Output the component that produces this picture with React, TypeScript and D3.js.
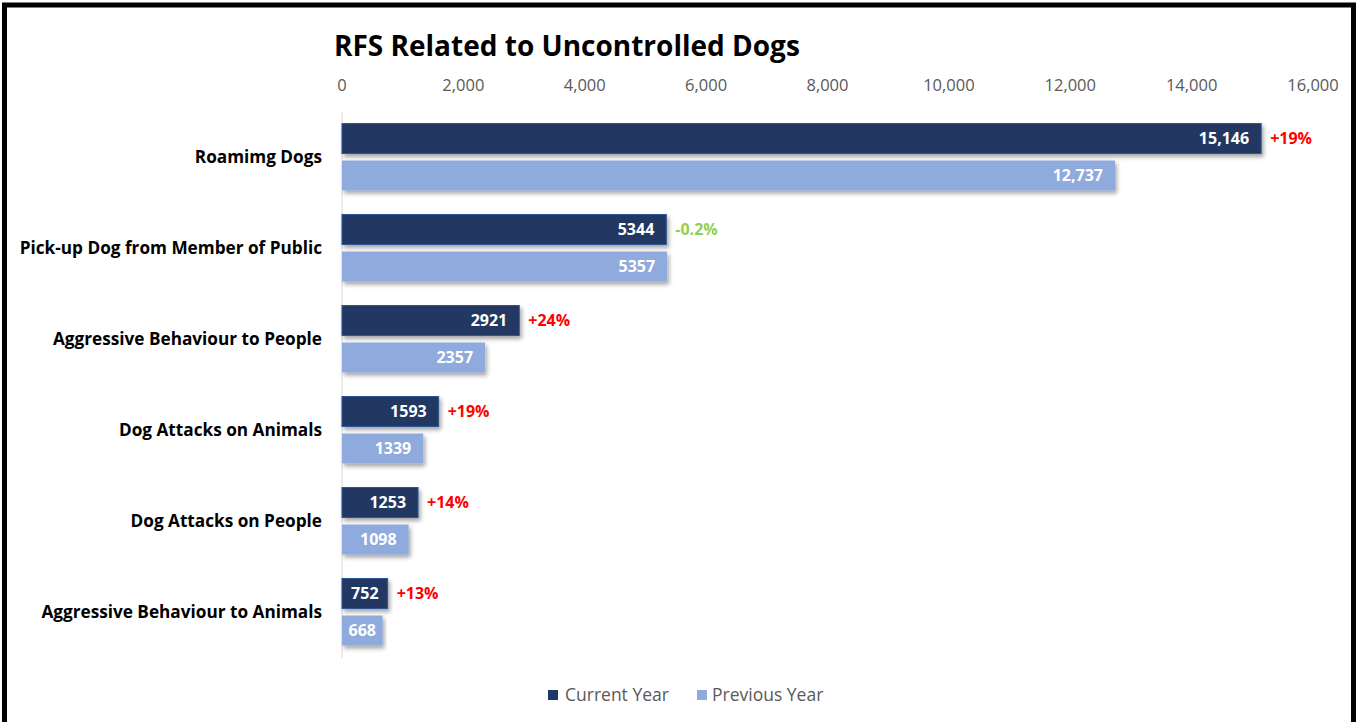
import React from "react";
import * as d3 from "d3";

const categories = [
  "Roamimg Dogs",
  "Pick-up Dog from Member of Public",
  "Aggressive Behaviour to People",
  "Dog Attacks on Animals",
  "Dog Attacks on People",
  "Aggressive Behaviour to Animals",
];
const currentYear = [15146, 5344, 2921, 1593, 1253, 752];
const previousYear = [12737, 5357, 2357, 1339, 1098, 668];
const currentLabels = ["15,146", "5344", "2921", "1593", "1253", "752"];
const previousLabels = ["12,737", "5357", "2357", "1339", "1098", "668"];
const changeLabels = ["+19%", "-0.2%", "+24%", "+19%", "+14%", "+13%"];
const xTicks = [0, 2000, 4000, 6000, 8000, 10000, 12000, 14000, 16000];
const seriesNames = ["Current Year", "Previous Year"];

const DARK = "#203864";
const LIGHT = "#8FAADC";
const FONT = "'Open Sans', Lato, sans-serif";

export default function App() {
  const W = 1358;
  const H = 722;
  const x = d3.scaleLinear().domain([0, 16000]).range([342, 1313]);
  const y = d3.scaleBand<string>().domain(categories).range([111.5, 657.5]);
  const sub = d3
    .scaleBand<string>()
    .domain(seriesNames)
    .range([0, 67])
    .paddingInner(7 / 37);
  const fmt = d3.format(",");
  const groupOffset = (y.bandwidth() - 67) / 2;

  const valueLabel = (v: number, label: string, yy: number, bh: number) => {
    const w = x(v) - x(0);
    const small = w < 60;
    return (
      <text
        x={small ? x(0) + w / 2 : x(v) - 12}
        y={yy + bh / 2 + 5.5}
        textAnchor={small ? "middle" : "end"}
        fontSize={16}
        fontWeight={700}
        fill="#fff"
      >
        {label}
      </text>
    );
  };

  return (
    <svg
      width={W}
      height={H}
      style={{ position: "absolute", left: 0, top: 0, background: "#fff" }}
      fontFamily={FONT}
    >
      <defs>
        <filter id="shadow" x="-5%" y="-20%" width="115%" height="160%">
          <feDropShadow dx="2" dy="3" stdDeviation="2" floodColor="#000" floodOpacity="0.35" />
        </filter>
      </defs>
      <rect x={0} y={0} width={W} height={H} fill="#fff" />
      <path d={`M4.5,${H + 10} V5 H1353.5 V${H + 10}`} fill="none" stroke="#000" strokeWidth={5} />

      <text x={334} y={56} fontSize={28} fontWeight={700} fill="#000">
        RFS Related to Uncontrolled Dogs
      </text>

      {xTicks.map((t) => (
        <text key={t} x={x(t)} y={91} fontSize={16.5} fill="#595959" textAnchor="middle">
          {fmt(t)}
        </text>
      ))}

      <line x1={x(0)} x2={x(0)} y1={112} y2={658} stroke="#D9D9D9" strokeWidth={1} />

      {categories.map((c, i) => {
        const y0 = (y(c) as number) + groupOffset;
        const yc = y0 + (sub("Current Year") as number);
        const yp = y0 + (sub("Previous Year") as number);
        const bh = sub.bandwidth();
        const neg = changeLabels[i].startsWith("-");
        return (
          <g key={c}>
            <text
              x={322}
              y={(y(c) as number) + y.bandwidth() / 2 + 6}
              textAnchor="end"
              fontSize={17.2}
              fontWeight={700}
              fill="#000"
            >
              {c}
            </text>
            <rect
              x={x(0)}
              y={yc}
              width={x(currentYear[i]) - x(0)}
              height={bh}
              fill={DARK}
              stroke="#2F5597"
              strokeWidth={1}
              filter="url(#shadow)"
            />
            <rect
              x={x(0)}
              y={yp}
              width={x(previousYear[i]) - x(0)}
              height={bh}
              fill={LIGHT}
              filter="url(#shadow)"
            />
            {valueLabel(currentYear[i], currentLabels[i], yc, bh)}
            {valueLabel(previousYear[i], previousLabels[i], yp, bh)}
            <text
              x={x(currentYear[i]) + 9}
              y={yc + bh / 2 + 5.5}
              fontSize={16}
              fontWeight={700}
              fill={neg ? "#92D050" : "#FF0000"}
            >
              {changeLabels[i]}
            </text>
          </g>
        );
      })}

      <g>
        <rect x={548} y={690} width={10} height={10} fill={DARK} />
        <text x={565} y={701} fontSize={17.5} fill="#595959">
          {seriesNames[0]}
        </text>
        <rect x={697} y={690} width={10} height={10} fill={LIGHT} />
        <text x={712} y={701} fontSize={17.5} fill="#595959">
          {seriesNames[1]}
        </text>
      </g>
    </svg>
  );
}
